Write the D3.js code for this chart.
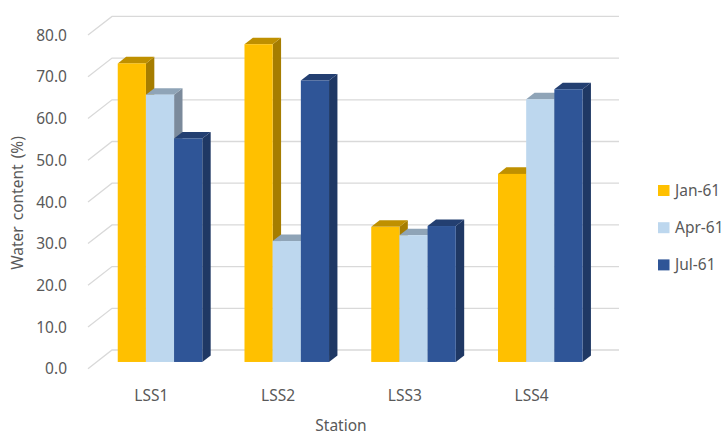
<!DOCTYPE html>
<html><head><meta charset="utf-8">
<script src="https://cdn.jsdelivr.net/npm/d3@7"></script>
<style>body{margin:0;background:#fff}svg{display:block}text{font-family:"Noto Sans",sans-serif;fill:#595959}</style>
</head><body>
<svg id="c" width="726" height="437"></svg>
<script>
const categories = ["LSS1", "LSS2", "LSS3", "LSS4"];
const seriesNames = ["Jan-61", "Apr-61", "Jul-61"];
const jan = [71.6, 76.2, 32.4, 45.1];
const apr = [64.1, 29.0, 30.4, 63.0];
const jul = [53.6, 67.5, 32.6, 65.4];
const yTicks = [0, 10, 20, 30, 40, 50, 60, 70, 80];
const seriesValues = [jan, apr, jul];
const faceColors = ["#FFC000", "#BDD7EE", "#2F5597"];
const topColors = ["#BF9000", "#8FA4B7", "#233F71"];
const sideColors = ["#A67D00", "#7B8A9B", "#1F3864"];

const svg = d3.select("#c");
const DX = 24, DY = 18.7; // full depth offset
const zF = 0.36, zB = 0.71; // bar depth range
const y = d3.scaleLinear().domain([0, 80]).range([368.7, 35.1]);
const x = d3.scaleBand().domain(categories).range([88, 595]).paddingInner(0.333).paddingOuter(0.1665);
const xs = d3.scaleBand().domain(d3.range(3)).range([0, x.bandwidth()]);
const px = (X, z) => X + z * DX;
const py = (v, z) => y(v) - z * DY;

// gridlines
const g = svg.append("g");
yTicks.forEach(t => {
  g.append("path")
    .attr("d", `M${px(x.range()[0],0)},${py(t,0)}L${px(x.range()[0],1)},${py(t,1)}L${px(x.range()[1],1)},${py(t,1)}`)
    .attr("fill", "none").attr("stroke", "#d9d9d9").attr("stroke-width", 1.3);
  svg.append("text").attr("x", 67).attr("y", y(t) + 1.5)
    .attr("text-anchor", "end").attr("dominant-baseline", "middle")
    .style("font-size", "15.5px").text(t.toFixed(1));
});

// bars
const bars = svg.append("g");
categories.forEach((c, ci) => {
  seriesValues.forEach((vals, si) => {
    const v = vals[ci];
    const x0 = x(c) + xs(si), x1 = x0 + xs.bandwidth();
    const xf0 = px(x0, zF), xf1 = px(x1, zF);
    const xb0 = px(x0, zB), xb1 = px(x1, zB);
    const yt = py(v, zF), yb = py(0, zF);
    const ytb = py(v, zB), ybb = py(0, zB);
    bars.append("path").attr("d", `M${xf1},${yt}L${xb1},${ytb}L${xb1},${ybb}L${xf1},${yb}Z`).attr("fill", sideColors[si]);
    bars.append("path").attr("d", `M${xf0},${yt}L${xb0},${ytb}L${xb1},${ytb}L${xf1},${yt}Z`).attr("fill", topColors[si]);
    bars.append("rect").attr("x", xf0).attr("y", yt).attr("width", xf1 - xf0).attr("height", yb - yt).attr("fill", faceColors[si]);
  });
  svg.append("text").attr("x", x(c) + x.bandwidth() / 2).attr("y", 397)
    .attr("text-anchor", "middle").attr("dominant-baseline", "middle")
    .style("font-size", "15.5px").text(c);
});

// axis titles
svg.append("text").attr("x", 341).attr("y", 427).attr("text-anchor", "middle")
  .attr("dominant-baseline", "middle").style("font-size", "15.5px").text("Station");
svg.append("text").attr("transform", "translate(19,203) rotate(-90)").attr("text-anchor", "middle")
  .attr("dominant-baseline", "middle").style("font-size", "15.5px").style("word-spacing", "2px").text("Water content (%)");

// legend
seriesNames.forEach((n, i) => {
  const ly = 190.5 + i * 37.2;
  svg.append("rect").attr("x", 658).attr("y", ly - 5.5).attr("width", 11.5).attr("height", 11).attr("fill", faceColors[i]);
  svg.append("text").attr("x", 675).attr("y", ly + 1).attr("dominant-baseline", "middle")
    .style("font-size", "15.5px").text(n);
});
</script>
</body></html>
